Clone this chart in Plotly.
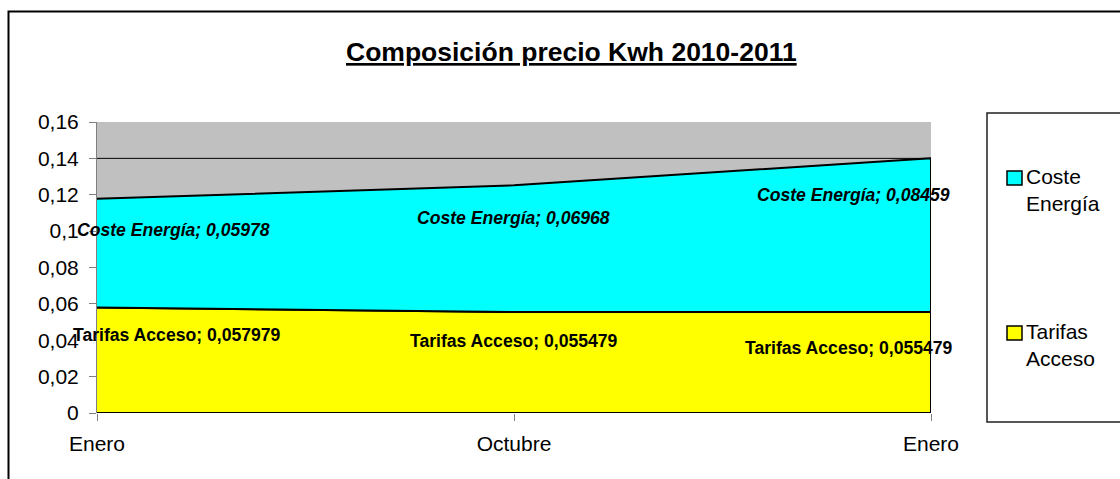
import plotly.graph_objects as go

# ---------------- data ----------------
categories = ["Enero", "Octubre", "Enero"]
series_names = ["Tarifas Acceso", "Coste Energía"]
tarifas_acceso = [0.057979, 0.055479, 0.055479]
coste_energia = [0.05978, 0.06968, 0.08459]
y_tick_values = [0, 0.02, 0.04, 0.06, 0.08, 0.10, 0.12, 0.14, 0.16]
y_tick_labels = ["0", "0,02", "0,04", "0,06", "0,08", "0,1", "0,12", "0,14", "0,16"]
gridline_value = 0.14
title_text = "Composición precio Kwh 2010-2011"

# ---------------- styling ----------------
W, H = 1120, 479
PL, PR, PT, PB = 97, 931, 122, 413  # plot area in pixels
FONT = "Liberation Sans, Arial, sans-serif"
COL_TARIFAS = "#ffff00"
COL_COSTE = "#00ffff"
PLOT_BG = "#c0c0c0"


def px2x(px):
    return (px - PL) / (PR - PL)


def py2y(py):
    return (PB - py) / (PB - PT)


idx = list(range(len(categories)))
totals = [a + b for a, b in zip(tarifas_acceso, coste_energia)]

fig = go.Figure()

# Tarifas Acceso polygon (bottom layer)
fig.add_trace(go.Scatter(
    x=idx + idx[::-1],
    y=tarifas_acceso + [0] * len(idx),
    fill="toself", fillcolor=COL_TARIFAS, mode="lines",
    line=dict(color="black", width=2),
    name=series_names[0], showlegend=False, hoverinfo="skip",
))
# Coste Energía polygon (stacked on top)
fig.add_trace(go.Scatter(
    x=idx + idx[::-1],
    y=totals + tarifas_acceso[::-1],
    fill="toself", fillcolor=COL_COSTE, mode="lines",
    line=dict(color="black", width=2),
    name=series_names[1], showlegend=False, hoverinfo="skip",
))


def fmt(v):
    return str(v).replace(".", ",")


# data labels (Excel-like placement offsets)
coste_shift = [(76, -31), (-1, -33), (-78, -37)]
tarifas_shift = [(80, -27), (0, -29), (-82, -36)]
annotations = []
for i in idx:
    dx, dy = coste_shift[i]
    annotations.append(dict(
        x=i, y=totals[i], xref="x", yref="y", xshift=dx, yshift=dy,
        text=f"<b><i>{series_names[1]}; {fmt(coste_energia[i])}</i></b>",
        showarrow=False, font=dict(family=FONT, size=17.6, color="black"),
        xanchor="center", yanchor="middle"))
    dx, dy = tarifas_shift[i]
    annotations.append(dict(
        x=i, y=tarifas_acceso[i], xref="x", yref="y", xshift=dx, yshift=dy,
        text=f"<b>{series_names[0]}; {fmt(tarifas_acceso[i])}</b>",
        showarrow=False, font=dict(family=FONT, size=17.6, color="black"),
        xanchor="center", yanchor="middle"))

# title
annotations.append(dict(
    x=px2x(571.5), y=py2y(52), xref="paper", yref="paper",
    text=f"<span style='text-decoration:underline'><b>{title_text}</b></span>",
    showarrow=False, font=dict(family=FONT, size=26.5, color="black"),
    xanchor="center", yanchor="middle"))

# legend texts
legend_items = [(series_names[1], COL_COSTE, 171, 189.5),
                (series_names[0], COL_TARIFAS, 326, 344.5)]
shapes = []
for name, col, sq_top, text_mid in legend_items:
    shapes.append(dict(type="rect", xref="paper", yref="paper",
                       x0=px2x(1007), x1=px2x(1022), y0=py2y(sq_top + 14), y1=py2y(sq_top),
                       fillcolor=col, line=dict(color="black", width=1.5)))
    annotations.append(dict(
        x=px2x(1024), y=py2y(text_mid), xref="paper", yref="paper",
        text="<br>".join(name.split(" ")), align="left",
        showarrow=False, font=dict(family=FONT, size=21, color="black"),
        xanchor="left", yanchor="middle"))

# legend box
shapes.append(dict(type="rect", xref="paper", yref="paper",
                   x0=px2x(987), x1=px2x(1130), y0=py2y(422), y1=py2y(113),
                   line=dict(color="#202020", width=1.5), fillcolor="rgba(0,0,0,0)"))
# outer chart border
shapes.append(dict(type="rect", xref="paper", yref="paper",
                   x0=px2x(8.5), x1=px2x(1140), y0=py2y(500), y1=py2y(11.5),
                   line=dict(color="black", width=2), fillcolor="rgba(0,0,0,0)"))
# gridline
shapes.append(dict(type="line", xref="paper", yref="y", x0=0, x1=1,
                   y0=gridline_value, y1=gridline_value,
                   line=dict(color="black", width=1), layer="below"))

fig.update_layout(
    width=W, height=H, autosize=False,
    margin=dict(l=PL, r=W - PR, t=PT, b=H - PB, pad=0),
    paper_bgcolor="white", plot_bgcolor=PLOT_BG,
    showlegend=False,
    font=dict(family=FONT, size=21, color="black"),
    annotations=annotations, shapes=shapes,
    xaxis=dict(range=[0, 2], tickvals=idx, ticktext=categories,
               ticks="outside", ticklen=7, tickcolor="#808080", tickwidth=1,
               ticklabelstandoff=5,
               showgrid=False, zeroline=False, showline=False,
               tickfont=dict(family=FONT, size=21, color="black"),
               fixedrange=True),
    yaxis=dict(range=[0, 0.16], tickvals=y_tick_values, ticktext=y_tick_labels,
               ticks="outside", ticklen=7, tickcolor="#808080", tickwidth=1,
               ticklabelstandoff=6,
               showgrid=False, zeroline=False, showline=True,
               linecolor="#808080", linewidth=1, layer="below traces",
               tickfont=dict(family=FONT, size=21, color="black"),
               fixedrange=True),
)

fig.write_html("out.html", config={"displayModeBar": False},
               post_script="document.body.style.margin='0';document.body.style.overflow='hidden';")
